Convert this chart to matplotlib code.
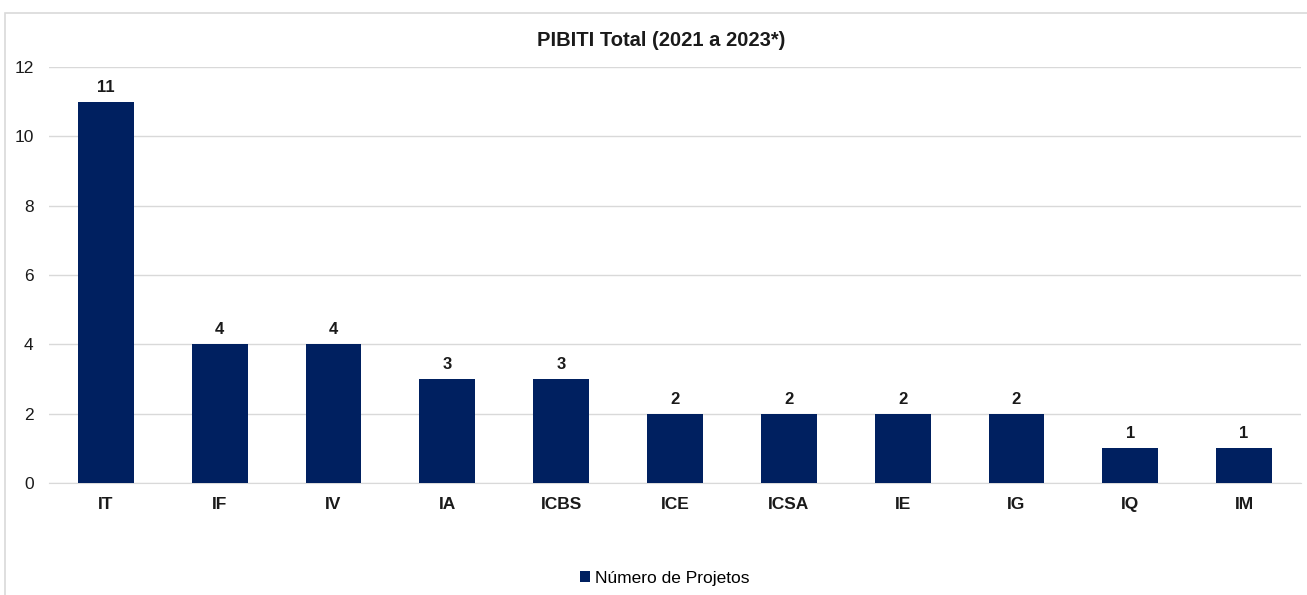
import matplotlib
matplotlib.use("Agg")
import matplotlib.pyplot as plt
from matplotlib.patches import Rectangle

categories = ["IT", "IF", "IV", "IA", "ICBS", "ICE", "ICSA", "IE", "IG", "IQ", "IM"]
values = [11, 4, 4, 3, 3, 2, 2, 2, 2, 1, 1]
title = "PIBITI Total (2021 a 2023*)"
series_name = "Número de Projetos"

plt.rcParams['font.family'] = ['Liberation Sans', 'DejaVu Sans']
W, H = 1307, 595
fig = plt.figure(figsize=(W/100, H/100), dpi=100)
ax = fig.add_axes([49/W, 1-483/H, (1301-49)/W, (483-67)/H])

color = "#002060"
txt = "#1a1a1a"
x = list(range(len(categories)))
bars = ax.bar(x, values, width=0.49, color=color, label=series_name, zorder=3)
for xi, v in zip(x, values):
    ax.annotate(str(v), (xi, v), xytext=(0, 5), textcoords="offset points",
                ha="center", va="bottom", fontsize=12, fontweight="bold", color=txt)

ax.set_xlim(-0.5, len(categories)-0.5)
ax.set_ylim(0, 12)
ax.set_yticks(range(0, 13, 2))
ax.set_xticks(x)
ax.set_xticklabels(categories, fontsize=12.5, fontweight="bold", color=txt)
ax.tick_params(axis="y", labelsize=12.5, colors=txt, length=0, pad=11)
ax.tick_params(axis="x", length=0, pad=10)
ax.grid(axis="y", color="#d9d9d9", linewidth=1, zorder=0)
for s in ["top", "right", "left"]:
    ax.spines[s].set_visible(False)
ax.spines["bottom"].set_color("#d9d9d9")
fig.text(661/W, 1-40/H, title, fontsize=14.5, fontweight="bold", color=txt, ha="center", va="center")

fig.legend(handles=[bars], labels=[series_name], loc="center", bbox_to_anchor=(665/W, 1-578/H),
           frameon=False, fontsize=12.5, handlelength=0.55, handleheight=0.55, handletextpad=0.3)

fig.patches.append(Rectangle((5/W, -0.1), 1.2, 1-13/H+0.1, transform=fig.transFigure,
                             fill=False, edgecolor="#d9d9d9", linewidth=1.2))
fig.savefig("out.png", dpi=100)
